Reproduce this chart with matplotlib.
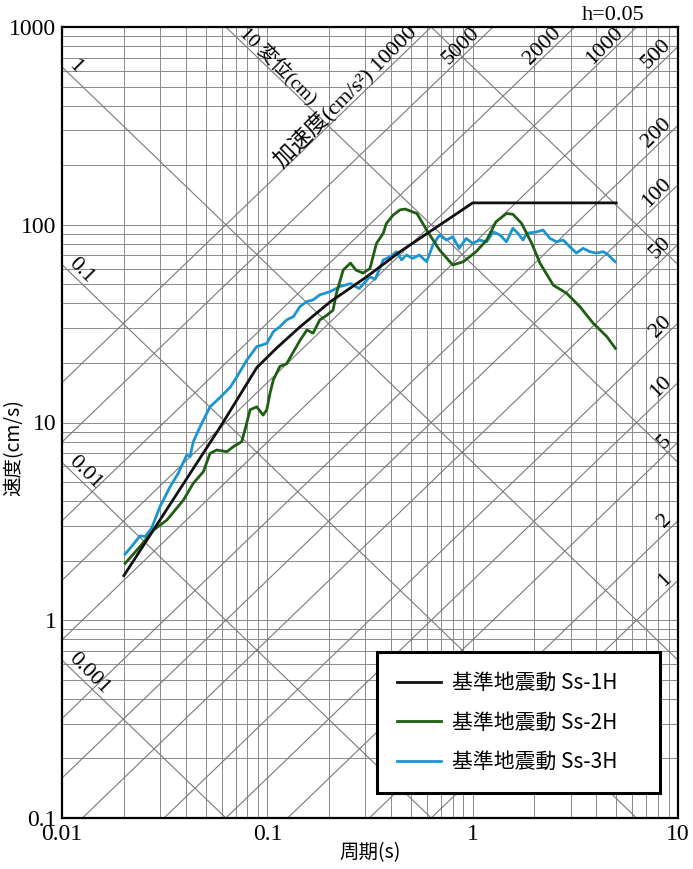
import numpy as np
import matplotlib
matplotlib.use("Agg")
import matplotlib.pyplot as plt

plt.rcParams['font.family'] = ['Liberation Serif', 'Noto Sans CJK JP']

# ---------------- data ----------------
ss1_T = [0.02, 0.059, 0.089, 0.111, 0.144, 0.202, 0.305, 0.443, 1.0, 5.0]
ss1_V = [1.68, 9.5, 19.0, 23.8, 30.4, 40.7, 54.6, 73.1, 129.0, 129.0]

ss2_T = [0.0203, 0.024, 0.0279, 0.0324, 0.039, 0.0436, 0.0488, 0.0526, 0.0567,
         0.0636, 0.0683, 0.075, 0.0779, 0.0824, 0.0888, 0.0954, 0.0994, 0.1031,
         0.1069, 0.115, 0.124, 0.1445, 0.156, 0.167, 0.18, 0.195, 0.209, 0.217,
         0.234, 0.254, 0.27, 0.292, 0.316, 0.34, 0.367, 0.38, 0.41, 0.443, 0.47,
         0.535, 0.597, 0.69, 0.80, 0.90, 1.04, 1.17, 1.30, 1.46, 1.57, 1.73,
         1.94, 2.13, 2.47, 2.87, 3.33, 3.87, 4.50, 4.96]
ss2_V = [1.94, 2.36, 2.86, 3.21, 4.05, 4.93, 5.64, 6.98, 7.26,
         7.12, 7.55, 8.0, 9.2, 11.6, 12.0, 10.9, 11.6, 14.1,
         16.4, 19.2, 19.8, 26.1, 29.4, 28.3, 33.0, 34.9, 37.0, 45.0,
         59.0, 64.0, 59.0, 57.0, 60.0, 80.5, 90.6, 101.6, 112.0, 119.0, 120.0,
         114.0, 94.0, 74.5, 62.6, 65.0, 73.1, 83.7, 103.6, 114.0, 113.0, 101.6,
         80.5, 63.8, 49.5, 45.0, 38.5, 31.7, 27.2, 23.7]

ss3_T = [0.0203, 0.0218, 0.024, 0.0254, 0.0273, 0.030, 0.0336, 0.0368, 0.0405,
         0.042, 0.0436, 0.047, 0.0526, 0.0589, 0.066, 0.071, 0.0795, 0.0888,
         0.0994, 0.107, 0.115, 0.124, 0.134, 0.144, 0.155, 0.167, 0.18, 0.202,
         0.226, 0.254, 0.28, 0.316, 0.335, 0.367, 0.396, 0.426, 0.45, 0.476,
         0.51, 0.55, 0.597, 0.64, 0.69, 0.745, 0.80, 0.86, 0.93, 1.0, 1.08,
         1.17, 1.26, 1.36, 1.46, 1.57, 1.66, 1.76, 1.83, 2.05, 2.2, 2.38, 2.56,
         2.76, 2.97, 3.2, 3.45, 3.72, 4.0, 4.33, 4.58, 4.94]
ss3_V = [2.16, 2.36, 2.67, 2.65, 2.92, 3.75, 4.73, 5.53, 6.85,
         6.71, 8.0, 9.5, 12.0, 13.4, 15.1, 17.0, 20.7, 24.2,
         25.1, 28.8, 30.5, 33.0, 34.3, 38.5, 40.8, 41.7, 44.2, 45.9,
         48.7, 50.4, 47.6, 54.6, 53.0, 66.4, 68.9, 73.1, 66.4, 70.3,
         67.6, 70.3, 65.0, 79.0, 88.7, 83.7, 86.9, 76.0, 85.3, 80.5, 83.7,
         82.0, 92.0, 88.7, 82.0, 96.0, 90.6, 83.7, 90.6, 92.0, 94.0, 85.3, 82.0,
         83.7, 77.5, 71.9, 76.0, 73.1, 71.9, 73.1, 70.3, 65.0]

series_labels = ['基準地震動 Ss-1H', '基準地震動 Ss-2H', '基準地震動 Ss-3H']
series_colors = ['#111111', '#1d5e12', '#1b95d2']

x_ticks = [0.01, 0.1, 1, 10]
x_ticklabels = ['0.01', '0.1', '1', '10']
y_ticks = [0.1, 1, 10, 100, 1000]
y_ticklabels = ['0.1', '1', '10', '100', '1000']

disp_values = [0.001, 0.01, 0.1, 1, 10, 100]            # cm
disp_labels = {0.001: '0.001', 0.01: '0.01', 0.1: '0.1', 1: '1'}
acc_values = [1, 2, 5, 10, 20, 50, 100, 200, 500, 1000, 2000, 5000, 10000]  # cm/s^2
acc_top_labels = {1000: '1000', 2000: '2000', 5000: '5000',
                  10000: '加速度(cm/s²) 10000'}
acc_right_labels = {500: '500', 200: '200', 100: '100', 50: '50', 20: '20',
                    10: '10', 5: '5', 2: '2', 1: '1'}

# ---------------- figure ----------------
W, H = 693, 869
fig = plt.figure(figsize=(W / 100, H / 100), dpi=100)
L, R, T_, B = 62, 678, 27, 818
ax = fig.add_axes([L / W, 1 - B / H, (R - L) / W, (B - T_) / H])
ax.set_xscale('log')
ax.set_yscale('log')
ax.set_xlim(0.01, 10)
ax.set_ylim(0.1, 1000)

ax.grid(True, which='both', color='#8a8a8a', linewidth=0.7)
ax.set_axisbelow(True)

Tg = np.logspace(-2, 1, 200)
twopi = 2 * np.pi
for d in disp_values:
    ax.plot(Tg, twopi * d / Tg, color='#7a7a7a', lw=0.8, zorder=1)
for a in acc_values:
    ax.plot(Tg, a * Tg / twopi, color='#7a7a7a', lw=0.8, zorder=1)

lab_fs = 16
# displacement labels on left edge
for d, s in disp_labels.items():
    ax.annotate(s, xy=(0.01, twopi * d / 0.01), xytext=(2, -2),
                textcoords='offset points', rotation=-45, rotation_mode='anchor',
                ha='left', va='bottom', fontsize=lab_fs, annotation_clip=False)
# displacement 10 label at top
ax.annotate('10 変位(cm)', xy=(twopi * 10 / 1000, 1000), xytext=(7, -7),
            textcoords='offset points', rotation=-45, rotation_mode='anchor',
            ha='left', va='bottom', fontsize=14, annotation_clip=False)
# acceleration labels at top
for a, s in acc_top_labels.items():
    ax.annotate(s, xy=(twopi * 1000 / a, 1000), xytext=(-7, -7),
                textcoords='offset points', rotation=45, rotation_mode='anchor',
                ha='right', va='bottom', fontsize=lab_fs, annotation_clip=False)
# acceleration labels at right edge
for a, s in acc_right_labels.items():
    ax.annotate(s, xy=(10, a * 10 / twopi), xytext=(-2, -2),
                textcoords='offset points', rotation=45, rotation_mode='anchor',
                ha='right', va='bottom', fontsize=lab_fs, annotation_clip=False)

# ---------------- spectra ----------------
ax.plot(ss1_T, ss1_V, color=series_colors[0], lw=2.0, label=series_labels[0], zorder=5)
ax.plot(ss2_T, ss2_V, color=series_colors[1], lw=2.0, label=series_labels[1], zorder=4)
ax.plot(ss3_T, ss3_V, color=series_colors[2], lw=2.0, label=series_labels[2], zorder=3)

ax.set_xticks(x_ticks)
ax.set_xticklabels(x_ticklabels)
ax.set_yticks(y_ticks)
ax.set_yticklabels(y_ticklabels)
ax.minorticks_on()
ax.tick_params(which='both', length=0, labelsize=17)
ax.tick_params(axis='x', pad=4)
ax.tick_params(axis='y', pad=4)
ax.xaxis.set_minor_formatter(matplotlib.ticker.NullFormatter())
ax.yaxis.set_minor_formatter(matplotlib.ticker.NullFormatter())
for sp in ax.spines.values():
    sp.set_linewidth(1.6)

ax.set_xlabel('周期(s)', fontsize=14, family=['Noto Sans CJK JP'])
ax.xaxis.set_label_coords(0.5, (B - 842) / (B - T_))
ax.set_ylabel('速度(cm/s)', fontsize=14, family=['Noto Sans CJK JP'])
ax.yaxis.set_label_coords((24 - L) / (R - L), (B - 448) / (B - T_))

fig.text(645 / W, 1 - 15 / H, 'h=0.05', ha='right', va='center', fontsize=16)

leg = ax.legend(loc='lower left',
                bbox_to_anchor=((377 - L) / (R - L), (B - 793) / (B - T_),
                                (660 - 377) / (R - L), 0.1),
                mode='expand',
                prop={'family': 'Noto Sans CJK JP', 'size': 15},
                handlelength=2.1, handletextpad=0.55, labelspacing=0.85,
                borderpad=0.95, borderaxespad=0, fancybox=False, framealpha=1,
                edgecolor='black')
leg.get_frame().set_linewidth(2.2)
leg.set_zorder(10)

fig.savefig('out.png', dpi=100)
